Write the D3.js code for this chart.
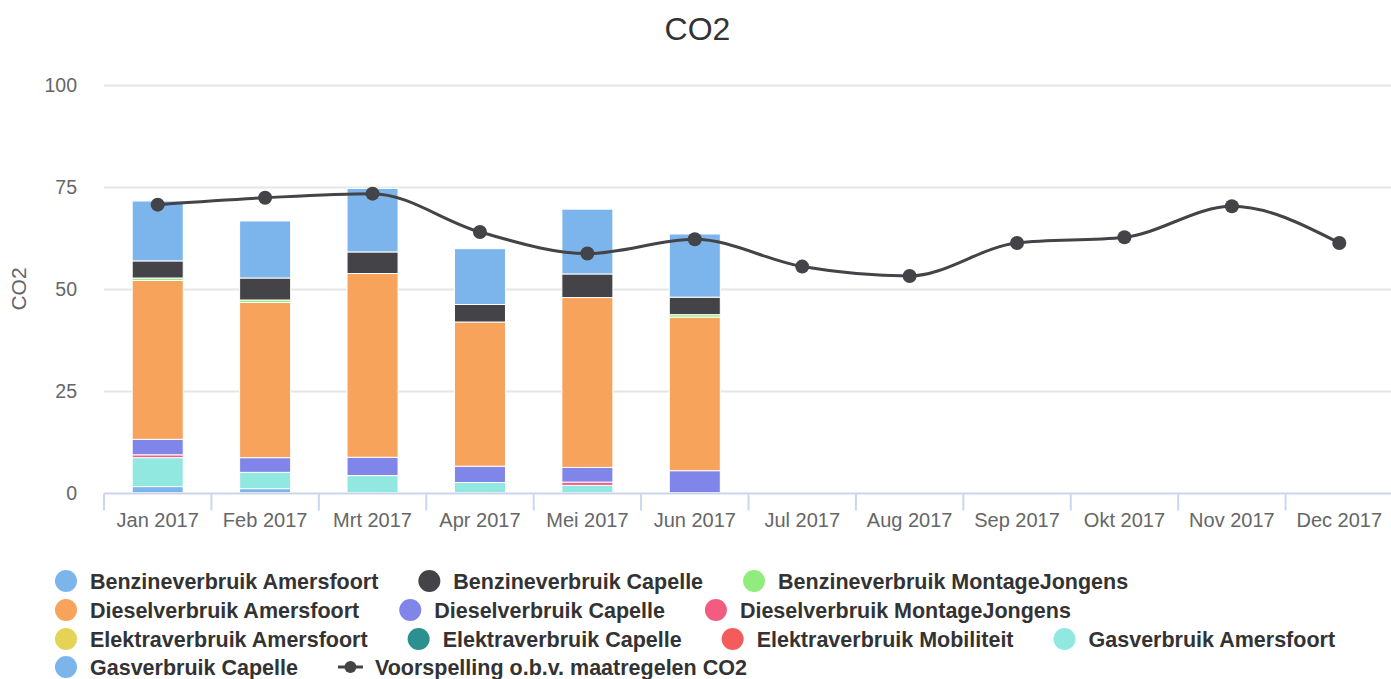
<!DOCTYPE html>
<html lang="nl">
<head>
<meta charset="UTF-8">
<title>CO2</title>
<script src="https://d3js.org/d3.v7.min.js"></script>
<style>
    body { margin: 0; background: #fff; }
    svg { font-family: "Liberation Sans", Arial, Helvetica, sans-serif; display: block; }
</style>
</head>
<body>
<div id="chart"></div>
<script>
    // months on the x axis
    const categories = ["Jan 2017", "Feb 2017", "Mrt 2017", "Apr 2017", "Mei 2017", "Jun 2017",
        "Jul 2017", "Aug 2017", "Sep 2017", "Okt 2017", "Nov 2017", "Dec 2017"];
    const yTicks = [0, 25, 50, 75, 100];

    // stacked column series (only Jan - Jun have values)
    const benzineAmersfoort = [14.7, 14.0, 15.6, 13.7, 15.9, 15.5];
    const benzineCapelle = [4.2, 5.4, 5.3, 4.3, 5.8, 4.3];
    const benzineMontage = [0.6, 0.6, 0, 0, 0, 0.6];
    const dieselAmersfoort = [39.0, 38.1, 45.1, 35.4, 41.7, 37.7];
    const dieselCapelle = [3.8, 3.6, 4.5, 4.0, 3.6, 5.4];
    const dieselMontage = [0.7, 0, 0, 0, 0.8, 0];
    const elektraAmersfoort = [0, 0, 0, 0, 0, 0];
    const elektraCapelle = [0, 0, 0, 0, 0, 0];
    const elektraMobiliteit = [0, 0, 0, 0, 0, 0];
    const gasAmersfoort = [7.1, 4.0, 4.2, 2.5, 1.8, 0];
    const gasCapelle = [1.5, 1.0, 0, 0, 0, 0];

    // forecast line
    const voorspelling = [70.7, 72.4, 73.4, 64.0, 58.7, 62.2, 55.5, 53.2, 61.3, 62.7, 70.3, 61.3];

    const series = [
        { name: "Benzineverbruik Amersfoort", color: "#7cb5ec", data: benzineAmersfoort },
        { name: "Benzineverbruik Capelle", color: "#434348", data: benzineCapelle },
        { name: "Benzineverbruik MontageJongens", color: "#90ed7d", data: benzineMontage },
        { name: "Dieselverbruik Amersfoort", color: "#f7a35c", data: dieselAmersfoort },
        { name: "Dieselverbruik Capelle", color: "#8085e9", data: dieselCapelle },
        { name: "Dieselverbruik MontageJongens", color: "#f15c80", data: dieselMontage },
        { name: "Elektraverbruik Amersfoort", color: "#e4d354", data: elektraAmersfoort },
        { name: "Elektraverbruik Capelle", color: "#2b908f", data: elektraCapelle },
        { name: "Elektraverbruik Mobiliteit", color: "#f45b5b", data: elektraMobiliteit },
        { name: "Gasverbruik Amersfoort", color: "#91e8e1", data: gasAmersfoort },
        { name: "Gasverbruik Capelle", color: "#7cb5ec", data: gasCapelle }
    ];
    const lineName = "Voorspelling o.b.v. maatregelen CO2";
    const lineColor = "#434348";

    const width = 1391;
    const height = 679;
    const margin = { top: 85, right: -2, bottom: 186, left: 104 };

    const svg = d3.select("#chart").append("svg")
        .attr("width", width)
        .attr("height", height);

    const x = d3.scaleBand()
        .domain(categories)
        .range([margin.left, width - margin.right])
        .paddingInner(0)
        .paddingOuter(0);

    const y = d3.scaleLinear()
        .domain([0, 100])
        .range([height - margin.bottom - 0.3, margin.top + 0.3]);

    // title
    svg.append("text")
        .attr("x", width / 2 + 2)
        .attr("y", 40)
        .attr("text-anchor", "middle")
        .style("font-size", "32px")
        .style("fill", "#333333")
        .text("CO2");

    // grid lines
    svg.append("g")
        .selectAll("line")
        .data(yTicks.slice(1))
        .join("line")
        .attr("x1", margin.left)
        .attr("x2", width)
        .attr("y1", d => Math.round(y(d)) + 0.5)
        .attr("y2", d => Math.round(y(d)) + 0.5)
        .style("stroke", "#e6e6e6")
        .style("stroke-width", 2);

    // y tick labels
    svg.append("g")
        .selectAll("text")
        .data(yTicks)
        .join("text")
        .attr("x", 77)
        .attr("y", d => y(d) + 7)
        .attr("text-anchor", "end")
        .style("font-size", "19.5px")
        .style("fill", "#666666")
        .text(d => d);

    // y axis title
    svg.append("text")
        .attr("transform", `translate(26, ${y(50)}) rotate(-90)`)
        .attr("text-anchor", "middle")
        .style("font-size", "21px")
        .style("fill", "#666666")
        .text("CO2");

    // stacked columns, first series on top
    const stackKeys = series.map(s => s.name).reverse();
    const rows = categories.slice(0, benzineAmersfoort.length).map((c, i) => {
        const row = { cat: c };
        series.forEach(s => { row[s.name] = s.data[i]; });
        return row;
    });
    const stacked = d3.stack().keys(stackKeys)(rows);
    const colorOf = Object.fromEntries(series.map(s => [s.name, s.color]));
    const barWidth = x.bandwidth() * 0.475;

    svg.append("g")
        .selectAll("g")
        .data(stacked)
        .join("g")
        .style("fill", d => colorOf[d.key])
        .selectAll("rect")
        .data(d => d.filter(p => p[1] - p[0] > 0))
        .join("rect")
        .attr("x", d => x(d.data.cat) + (x.bandwidth() - barWidth) / 2)
        .attr("width", barWidth)
        .attr("y", d => y(d[1]))
        .attr("height", d => y(d[0]) - y(d[1]))
        .style("stroke", "#ffffff")
        .style("stroke-width", 1);

    // x axis line and ticks
    const axisY = Math.round(y(0)) + 0.5;
    svg.append("line")
        .attr("x1", margin.left)
        .attr("x2", width)
        .attr("y1", axisY)
        .attr("y2", axisY)
        .style("stroke", "#ccd6eb")
        .style("stroke-width", 2);

    svg.append("g")
        .selectAll("line")
        .data(categories)
        .join("line")
        .attr("x1", d => x(d))
        .attr("x2", d => x(d))
        .attr("y1", axisY)
        .attr("y2", axisY + 17)
        .style("stroke", "#ccd6eb")
        .style("stroke-width", 2);

    svg.append("g")
        .selectAll("text")
        .data(categories)
        .join("text")
        .attr("x", d => x(d) + x.bandwidth() / 2)
        .attr("y", 527)
        .attr("text-anchor", "middle")
        .style("font-size", "20px")
        .style("fill", "#666666")
        .text(d => d);

    // forecast spline
    const line = d3.line()
        .x((d, i) => x(categories[i]) + x.bandwidth() / 2)
        .y(d => y(d))
        .curve(d3.curveMonotoneX);

    svg.append("path")
        .datum(voorspelling)
        .attr("d", line)
        .style("fill", "none")
        .style("stroke", lineColor)
        .style("stroke-width", 3);

    svg.append("g")
        .selectAll("circle")
        .data(voorspelling)
        .join("circle")
        .attr("cx", (d, i) => x(categories[i]) + x.bandwidth() / 2)
        .attr("cy", d => y(d))
        .attr("r", 7)
        .style("fill", lineColor);

    // legend
    const legendItems = series.map(s => ({ name: s.name, color: s.color, type: "dot" }))
        .concat([{ name: lineName, color: lineColor, type: "line" }]);
    const legend = svg.append("g");
    const startX = 55;
    const maxX = 1375;
    let lx = startX;
    let row = 0;
    const rowY = [581, 610, 639, 667];

    legendItems.forEach(item => {
        const t = legend.append("text")
            .style("font-size", "21.5px")
            .style("font-weight", "bold")
            .style("fill", "#333333")
            .text(item.name);
        const tw = t.node().getComputedTextLength();
        const symW = item.type === "line" ? 37 : 35;
        if (lx + symW + tw > maxX) {
            lx = startX;
            row += 1;
        }
        const cy = rowY[row];
        if (item.type === "dot") {
            legend.append("circle")
                .attr("cx", lx + 11)
                .attr("cy", cy)
                .attr("r", 11)
                .style("fill", item.color);
        } else {
            legend.append("line")
                .attr("x1", lx)
                .attr("x2", lx + 25)
                .attr("y1", cy)
                .attr("y2", cy)
                .style("stroke", item.color)
                .style("stroke-width", 3);
            legend.append("circle")
                .attr("cx", lx + 12.5)
                .attr("cy", cy)
                .attr("r", 6)
                .style("fill", item.color);
        }
        t.attr("x", lx + symW).attr("y", cy + 7.5);
        lx += symW + tw + 40;
    });
</script>
</body>
</html>
